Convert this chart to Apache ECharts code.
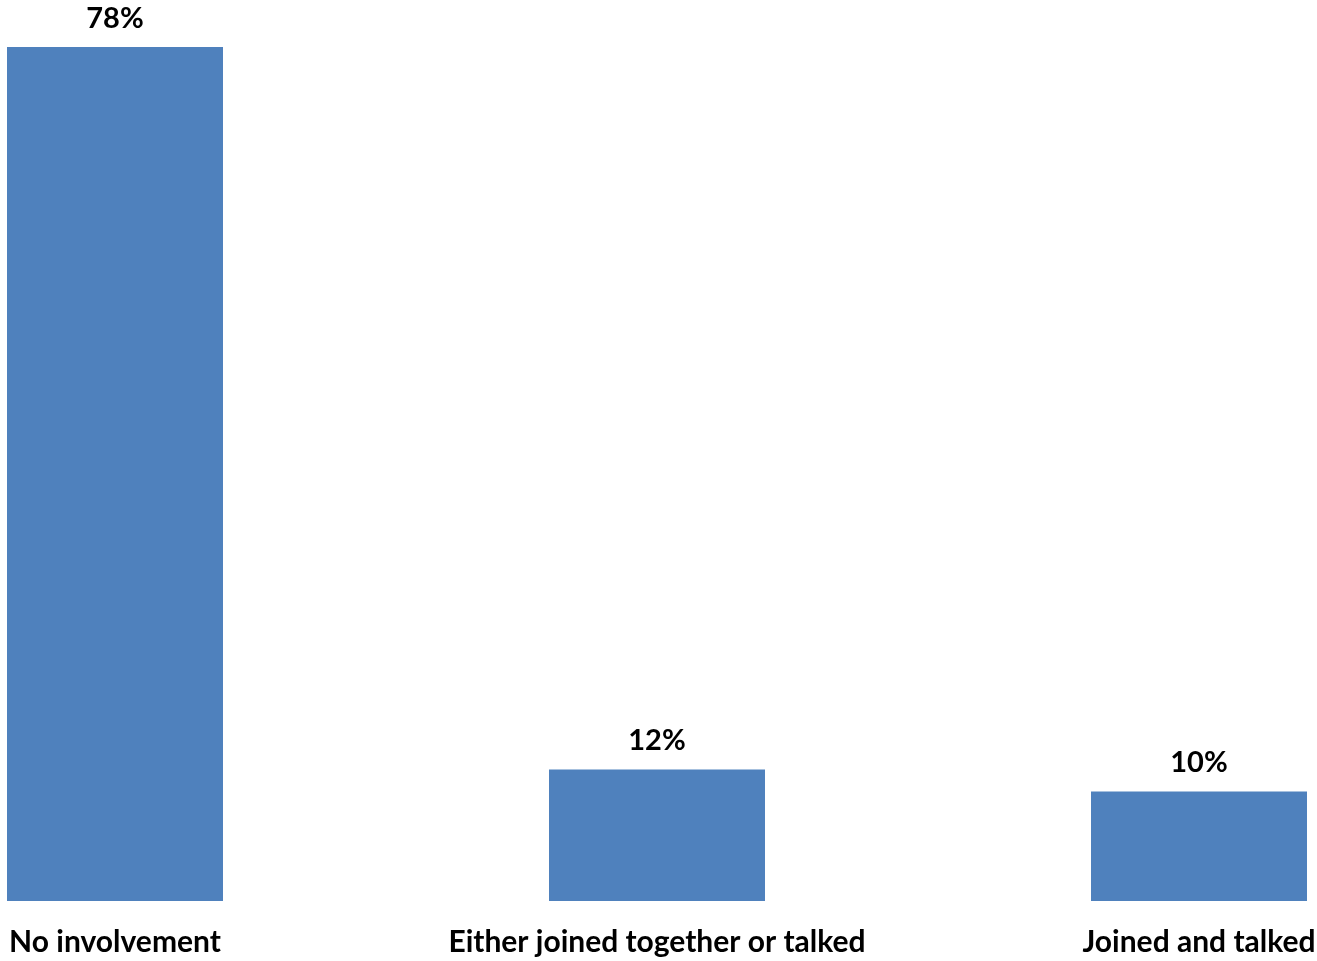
<!DOCTYPE html>
<html>
<head>
<meta charset="utf-8">
<style>
html,body{margin:0;padding:0;background:#fff;}
#chart{width:1317px;height:961px;}
</style>
<script src="https://cdn.jsdelivr.net/npm/echarts@6/dist/echarts.min.js"></script>
</head>
<body>
<div id="chart"></div>
<script>
var categories = ['No involvement', 'Either joined together or talked', 'Joined and talked'];
var values = [78, 12, 10];

var chart = echarts.init(document.getElementById('chart'));
chart.setOption({
  animation: false,
  grid: { left: 115, right: 118, top: 47, bottom: 60, containLabel: false, outerBoundsMode: 'none' },
  xAxis: {
    type: 'category',
    data: categories,
    boundaryGap: false,
    axisLine: { show: false },
    axisTick: { show: false },
    axisLabel: {
      interval: 0,
      margin: 26,
      fontFamily: 'Lato',
      fontWeight: 'bold',
      fontSize: 30,
      color: '#000'
    }
  },
  yAxis: {
    type: 'value',
    min: 0,
    max: 78,
    show: false,
    splitLine: { show: false }
  },
  series: [{
    type: 'bar',
    data: values,
    barWidth: 216,
    itemStyle: { color: '#4F81BD' },
    label: {
      show: true,
      position: 'top',
      distance: 14,
      formatter: '{c}%',
      fontFamily: 'Lato',
      fontWeight: 'bold',
      fontSize: 29,
      color: '#000'
    }
  }]
});
</script>
</body>
</html>
